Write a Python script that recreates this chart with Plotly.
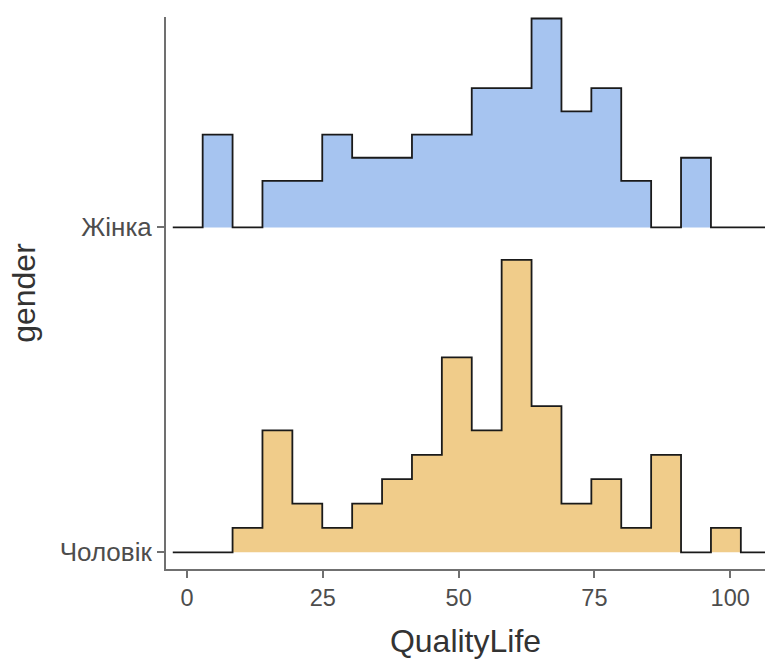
import plotly.graph_objects as go

# ---- data ----
groups = ["Чоловік", "Жінка"]            # y categories (bottom -> top)
fills = ["#F0CC8A", "#A6C4F0"]
bin_left = 2.88                           # left edge of the first bin
bin_width = 5.504
# counts per bin (18 bins)
counts_men = [0, 1, 5, 2, 1, 2, 3, 4, 8, 5, 12, 6, 2, 3, 1, 4, 0, 1]
counts_women = [4, 0, 2, 2, 4, 3, 3, 4, 4, 6, 6, 9, 5, 6, 2, 0, 3, 0]
x_ticks = [0, 25, 50, 75, 100]

counts = [counts_men, counts_women]
dens = [[c / sum(cs) for c in cs] for cs in counts]
max_d = max(max(d) for d in dens)
scale = 0.9 / max_d

fig = go.Figure()
for gi, (name, d) in enumerate(zip(groups, dens)):
    base = gi
    # pad with a zero bin on each side (as ggridges binline)
    h = [0] + d + [0]
    start = bin_left - bin_width
    xs, ys = [], []
    for i, v in enumerate(h):
        x0 = start + i * bin_width
        x1 = x0 + bin_width
        xs += [x0, x1]
        ys += [base + v * scale, base + v * scale]
    # fill polygon
    fig.add_trace(go.Scatter(
        x=xs + [xs[-1], xs[0]], y=ys + [base, base],
        fill="toself", fillcolor=fills[gi], mode="lines",
        line=dict(width=0, color=fills[gi]), hoverinfo="skip", showlegend=False))
    # outline
    fig.add_trace(go.Scatter(
        x=xs, y=ys, mode="lines",
        line=dict(color="#1a1a1a", width=1.8), name=name, showlegend=False))

font = "Liberation Sans, Arial, sans-serif"
fig.update_layout(
    width=765, height=660,
    margin=dict(l=166, r=0, t=17, b=91),
    plot_bgcolor="white", paper_bgcolor="white",
    font=dict(family=font),
    xaxis=dict(
        range=[-3.87, 106.4], tickvals=x_ticks, ticktext=[str(t) for t in x_ticks],
        showgrid=False, zeroline=False, showline=True, linecolor="#707070", linewidth=2,
        ticks="outside", ticklen=7, tickwidth=2, tickcolor="#707070",
        tickfont=dict(size=23.5, color="#4D4D4D", family=font),
        title=dict(text="QualityLife", font=dict(size=32, color="#333333", family=font),
                   standoff=19),
    ),
    yaxis=dict(
        range=[-0.0514, 1.6475], tickvals=[0, 1], ticktext=groups,
        showgrid=False, zeroline=False, showline=True, linecolor="#707070", linewidth=2,
        ticks="outside", ticklen=7, tickwidth=2, tickcolor="#707070",
        tickfont=dict(size=26, color="#4D4D4D", family=font),
        title=dict(text="gender", font=dict(size=32, color="#333333", family=font),
                   standoff=14),
    ),
)
fig.write_html("out.html")
